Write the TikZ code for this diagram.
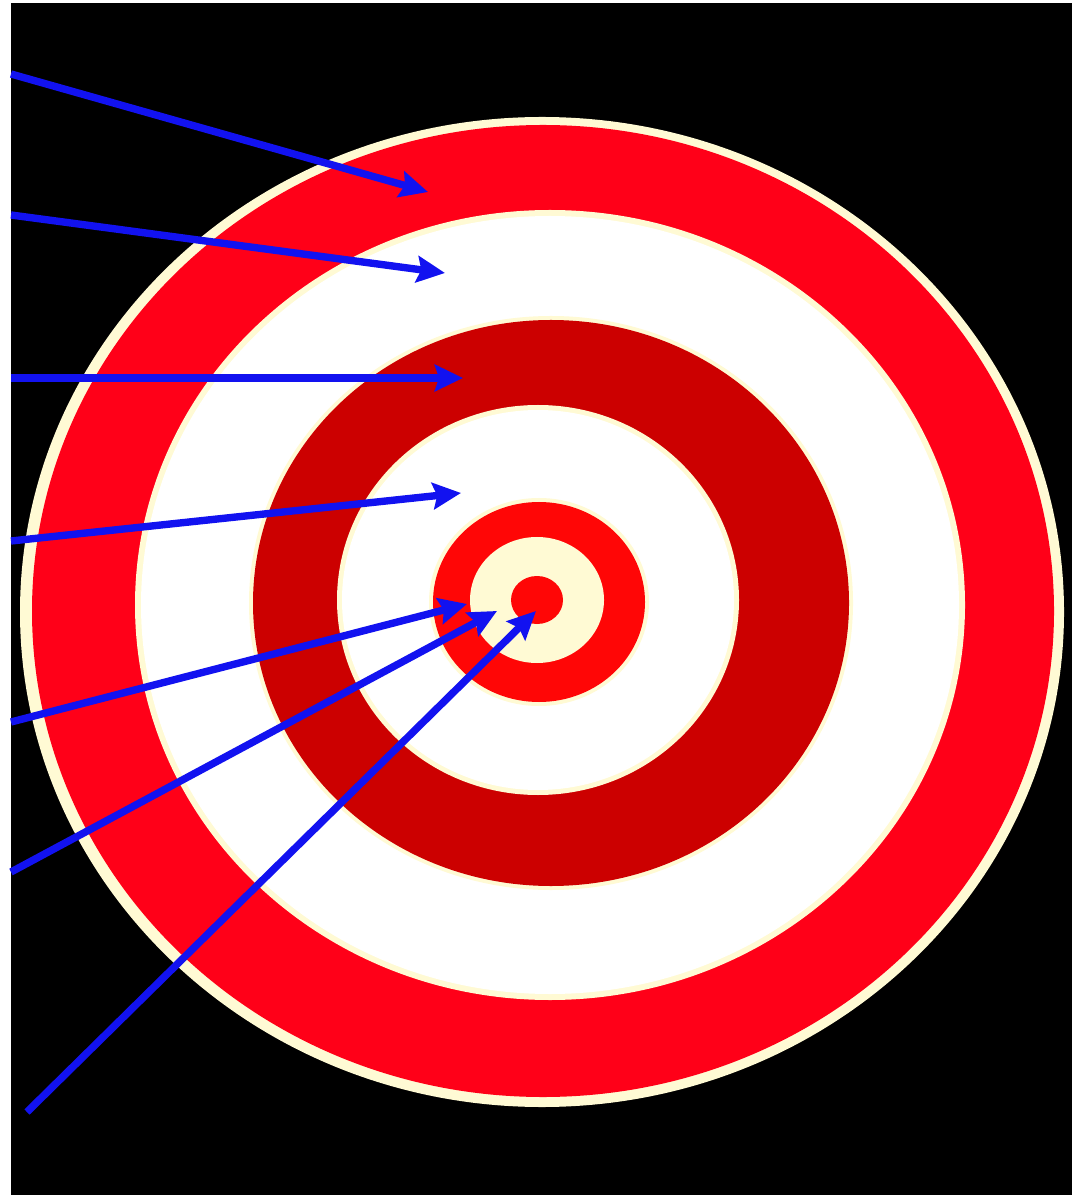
\documentclass[tikz,border=0pt]{standalone}
\usepackage{tikz}
\usetikzlibrary{arrows.meta}

\definecolor{cream}{RGB}{255,250,212}
\definecolor{ringred}{RGB}{255,0,24}
\definecolor{darkring}{RGB}{204,0,0}
\definecolor{bullred}{RGB}{255,6,6}
\definecolor{shaft}{RGB}{18,18,240}

\begin{document}
\begin{tikzpicture}[
    x=0.01cm, y=-0.01cm,
    band/.style = {fill=#1},
    shot/.style = {draw=shaft, line width=2.1pt, -{Stealth[length=8pt, width=7.5pt, inset=1.2pt]}}
]
    % frame
    \useasboundingbox (0,0) rectangle (1079,1195);
    \fill[white] (0,0) rectangle (1079,1195);
    \fill[black] (11,3) rectangle (1072,1195);

    % rings, outside in
    \fill[band=cream] (542,612) ellipse [x radius=522, y radius=495];
    \fill[band=ringred] (543,611) ellipse [x radius=511, y radius=486];
    \fill[band=cream] (550,605) ellipse [x radius=415, y radius=395];
    \fill[band=white] (550,605) ellipse [x radius=409, y radius=389];
    \fill[band=cream] (551,603) ellipse [x radius=302, y radius=287];
    \fill[band=darkring] (551,603) ellipse [x radius=298, y radius=283];
    \fill[band=cream] (538,600) ellipse [x radius=201, y radius=195];
    \fill[band=white] (538,600) ellipse [x radius=196, y radius=190];
    \fill[band=cream] (539,602) ellipse [x radius=110, y radius=104];
    \fill[band=bullred] (539,602) ellipse [x radius=106, y radius=100];
    \fill[band=cream] (537,600) ellipse [x radius=67, y radius=63];
    \fill[band=bullred] (537,600) ellipse [x radius=26, y radius=24];

    % where the arrows come from and where they land
    \coordinate (s1) at (11,74);
    \coordinate (s2) at (11,215);
    \coordinate (s3) at (11,378);
    \coordinate (s4) at (11,541);
    \coordinate (s5) at (11,722);
    \coordinate (s6) at (11,872);
    \coordinate (s7) at (27,1112);
    \coordinate (t1) at (428,192);
    \coordinate (t2) at (445,273);
    \coordinate (t3) at (463,378);
    \coordinate (t4) at (461,493);
    \coordinate (t5) at (467,604);
    \coordinate (t6) at (497,611);
    \coordinate (t7) at (536,611);

    \foreach \i in {1,...,7}
        \draw[shot] (s\i) -- (t\i);
\end{tikzpicture}
\end{document}
